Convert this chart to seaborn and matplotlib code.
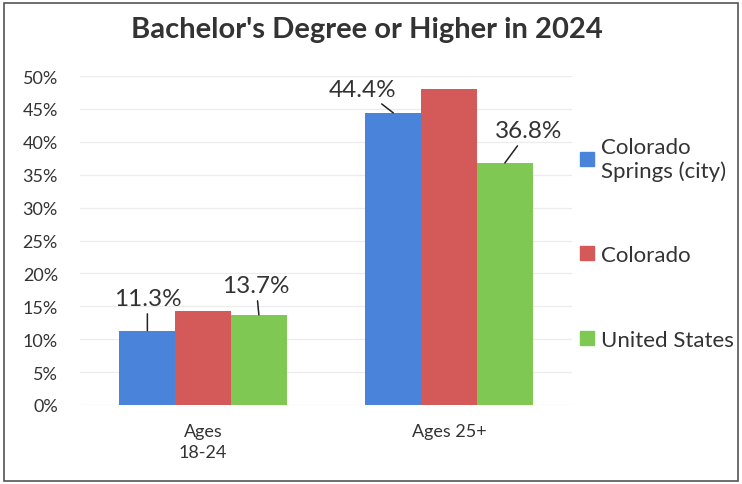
import matplotlib
matplotlib.use("Agg")
import matplotlib.pyplot as plt
import seaborn as sns
import pandas as pd
from matplotlib.patches import Rectangle
from matplotlib.ticker import PercentFormatter

# data
groups = ["Ages\n18-24", "Ages 25+"]
series = ["Colorado\nSprings (city)", "Colorado", "United States"]
springs = [11.3, 44.4]
colorado = [14.3, 48.0]
usa = [13.7, 36.8]
colors = ["#4a84da", "#d45a5a", "#7fc853"]

rows = []
for s, vals in zip(series, [springs, colorado, usa]):
    for g, v in zip(groups, vals):
        rows.append({"group": g, "series": s, "value": v})
df = pd.DataFrame(rows)

sns.set_style("white")
plt.rcParams["font.family"] = ["Lato", "DejaVu Sans"]

fig = plt.figure(figsize=(7.42, 4.85), dpi=100)
ax = fig.add_axes([0.108, 0.163, 0.663, 0.678])

sns.barplot(data=df, x="group", y="value", hue="series", palette=colors,
            width=0.68, saturation=1, linewidth=0, ax=ax, legend=True)

ax.set_ylim(0, 50)
ax.set_xlim(-0.5, 1.5)
ax.set_yticks(range(0, 51, 5))
ax.yaxis.set_major_formatter(PercentFormatter(decimals=0))
ax.grid(axis="y", color="#ececec", linewidth=0.9)
ax.set_axisbelow(True)
for sp in ax.spines.values():
    sp.set_visible(False)
ax.tick_params(axis="y", length=0, labelsize=13, labelcolor="#333333", pad=16)
ax.tick_params(axis="x", length=0, labelsize=13, labelcolor="#333333", pad=13)
for t in ax.get_xticklabels():
    t.set_linespacing(1.35)
ax.set_xlabel("")
ax.set_ylabel("")

# labelled bars, with leader lines (container index, bar index, offset in points)
labelled = [(0, 0, (0, 23)), (2, 0, (-2, 21)), (0, 1, (-22, 17)), (2, 1, (17, 23))]
vals = [springs, colorado, usa]
for ci, bi, off in labelled:
    bar = ax.containers[ci][bi]
    xc = bar.get_x() + bar.get_width() / 2
    top = bar.get_height()
    ax.annotate(f"{vals[ci][bi]:.1f}%", xy=(xc, top), xytext=off,
                textcoords="offset points", ha="center", va="center",
                fontsize=17.5, color="#333333",
                arrowprops=dict(arrowstyle="-", color="#222222", lw=1.1,
                                shrinkA=1, shrinkB=0))

ax.legend_.remove()
handles = [Rectangle((0, 0), 1, 1, color=c) for c in colors]
fig.legend(handles, series, loc="upper left", bbox_to_anchor=(0.755, 0.757),
           frameon=False, fontsize=16, labelspacing=2.9, handlelength=0.6,
           handleheight=0.6, handletextpad=0.35, labelcolor="#333333")

fig.suptitle("Bachelor's Degree or Higher in 2024", x=0.495, y=0.965,
             fontsize=21, fontweight="bold", color="#333333")

# thin frame round the chart
fig.patches.append(Rectangle((0.006, 0.006), 0.988, 0.985, transform=fig.transFigure,
                             fill=False, edgecolor="#555555", linewidth=1.2))

fig.savefig("out.png", dpi=100)
